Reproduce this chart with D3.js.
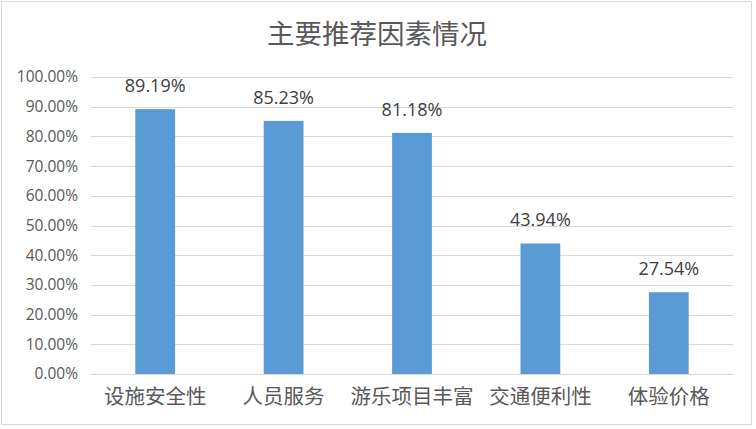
<!DOCTYPE html>
<html>
<head>
<meta charset="utf-8">
<script src="https://cdn.jsdelivr.net/npm/d3@7"></script>
<style>
  body { margin: 0; background: #fff; }
  text { font-family: "Noto Sans CJK SC", "Noto Sans", sans-serif; }
</style>
</head>
<body>
<svg id="chart"></svg>
<script>
// chart data
const categories = ['设施安全性', '人员服务', '游乐项目丰富', '交通便利性', '体验价格'];
const values = [89.19, 85.23, 81.18, 43.94, 27.54];
const yTicks = [0, 10, 20, 30, 40, 50, 60, 70, 80, 90, 100];
const title = '主要推荐因素情况';

const W = 756, H = 429;
const margin = { top: 77, right: 23, bottom: 55, left: 91 };
const width = W - margin.left - margin.right;
const height = H - margin.top - margin.bottom;

const svg = d3.select('#chart')
    .attr('width', W)
    .attr('height', H);

// outer border
svg.append('rect')
    .attr('x', 1.5).attr('y', 1.5)
    .attr('width', W - 6).attr('height', H - 6)
    .attr('fill', '#fff')
    .attr('stroke', '#d9d9d9');

svg.append('text')
    .attr('x', 377)
    .attr('y', 44)
    .style('text-anchor', 'middle')
    .style('font-size', '27.5px')
    .style('font-family', '"Noto Sans CJK SC", serif')
    .style('fill', '#595959')
    .text(title);

const chart = svg.append('g')
    .attr('transform', `translate(${margin.left},${margin.top})`);

const x = d3.scaleBand()
    .domain(categories)
    .range([0, width])
    .paddingInner(0.69)
    .paddingOuter(0.345);

const y = d3.scaleLinear()
    .domain([0, 100])
    .range([height, 0]);

// gridlines
chart.append('g')
    .selectAll('line')
    .data(yTicks)
    .enter()
    .append('line')
    .attr('x1', 0)
    .attr('x2', width)
    .attr('y1', d => Math.round(y(d)) + 0.5)
    .attr('y2', d => Math.round(y(d)) + 0.5)
    .attr('stroke', '#d9d9d9')
    .attr('stroke-width', 1);

// y axis labels
const yAxis = d3.axisLeft(y)
    .tickValues(yTicks)
    .tickSize(0)
    .tickPadding(13)
    .tickFormat(d => d.toFixed(2) + '%');

const yAxisG = chart.append('g').call(yAxis);
yAxisG.select('.domain').remove();
yAxisG.selectAll('text')
    .style('font-size', '15.5px')
    .style('fill', '#595959')
    .style('font-family', '"Open Sans", "Noto Sans", sans-serif');

// x axis labels
const xAxis = d3.axisBottom(x).tickSize(0).tickPadding(15);
const xAxisG = chart.append('g')
    .attr('transform', `translate(0,${height})`)
    .call(xAxis);
xAxisG.select('.domain').remove();
xAxisG.selectAll('text')
    .style('font-size', '20.5px')
    .style('fill', '#595959');

// bars
chart.selectAll('.bar')
    .data(values)
    .enter()
    .append('rect')
    .attr('class', 'bar')
    .attr('x', (d, i) => x(categories[i]))
    .attr('y', d => y(d))
    .attr('width', x.bandwidth())
    .attr('height', d => height - y(d))
    .attr('fill', '#5b9bd5');

// value labels
chart.selectAll('.val')
    .data(values)
    .enter()
    .append('text')
    .attr('class', 'val')
    .attr('x', (d, i) => x(categories[i]) + x.bandwidth() / 2)
    .attr('y', d => y(d) - 17)
    .style('text-anchor', 'middle')
    .style('font-size', '18px')
    .style('fill', '#404040')
    .style('font-family', '"Open Sans", "Noto Sans", sans-serif')
    .text(d => d.toFixed(2) + '%');
</script>
</body>
</html>
